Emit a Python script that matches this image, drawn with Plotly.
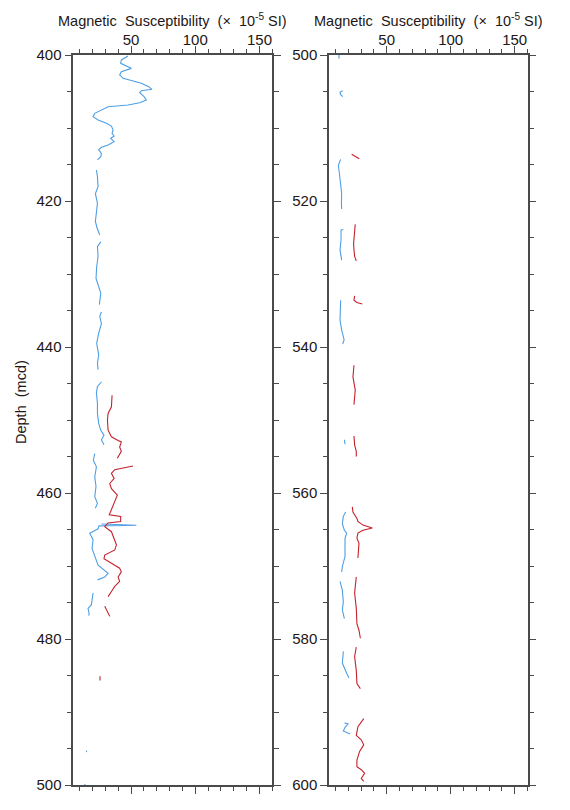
import plotly.graph_objects as go

# ---------- data (depth in mcd, susceptibility in 1e-5 SI); None = gap ----------
left_blue_depth = [
    400.14, 400.68, 401.14, 401.6, 401.83, 402.28, 402.74, 403.2, 403.56, 403.88, 404.34, 404.7,
    404.89, 405.16, 405.7, 406.16, 406.53, 406.85, 407.08, 407.53, 407.99, 408.45, 408.9, 409.36,
    409.73, 410.27, 410.73, 411.1, 411.42, 411.87, 412.33, 412.65, 413.0, 413.47, 413.93, 414.38, None,
    415.75, 416.66, 418.0, 419.0, 420.3, 421.7, 422.8, 423.7, 424.65, None,
    425.6, 426.25, 427.6, 429.0, 430.6, 431.7, 432.6, 434.2, None,
    435.2, 435.8, 436.8, 438.1, 439.5, 441.1, 442.2, 443.1, None,
    444.75, 444.9, 445.4, 446.3, 447.7, 449.1, 450.5, 451.4, 452.1, 452.7, 453.4, None,
    454.6, 455.5, 456.4, 457.8, 459.1, 460.5, 461.4, 462.1, None,
    464.25, 464.42, 464.5, 464.9, 465.5, 466.4, 467.6, 468.7, 469.9, 471.0, 471.5, 471.9, None,
    473.7, 474.7, 475.3, 475.8, 476.5, 476.8, None,
    495.3, 495.5, None,
    499.85, 500.0,
]
left_blue_value = [
    47.6, 42.4, 41.9, 47.6, 50.2, 42.4, 41.1, 43.8, 51.5, 58.0, 63.7, 66.3,
    58.0, 56.7, 60.1, 61.9, 56.7, 47.6, 32.1, 26.9, 21.7, 20.4, 24.3, 30.8,
    34.7, 36.0, 35.2, 36.8, 34.1, 36.8, 32.1, 26.9, 24.8, 26.9, 26.4, 23.8, None,
    23.0, 23.8, 24.3, 22.2, 23.8, 23.2, 22.2, 23.5, 25.6, None,
    26.4, 23.8, 24.3, 23.2, 22.7, 24.8, 26.4, 25.3, None,
    26.9, 25.6, 26.9, 24.8, 23.2, 24.8, 23.8, 24.3, None,
    26.9, 26.4, 23.8, 23.0, 23.8, 23.8, 24.8, 26.4, 28.9, 26.9, 28.9, None,
    21.7, 20.6, 23.0, 21.7, 22.7, 21.7, 23.8, 22.2, None,
    26.9, 54.1, 25.0, 24.3, 17.8, 20.4, 19.6, 21.7, 24.3, 32.1, 29.5, 23.8, None,
    20.4, 19.6, 19.1, 16.5, 17.3, 17.0, None,
    15.2, 15.4, None,
    13.9, 14.1,
]

left_red_depth = [
    446.6, 447.3, 448.2, 449.1, 450.0, 451.4, 452.3, 452.8, 453.0, 453.7, 454.3, 455.25, None,
    456.3, 456.5, 456.8, 457.3, 458.0, 458.7, 459.4, 460.3, 461.2, 462.1, 463.0, 463.2, 463.9,
    464.1, 464.6, 465.3, 466.4, 467.1, 467.8, 468.5, 469.0, 469.6, 470.3, 470.8, 471.5, 472.1,
    472.8, 473.5, 474.2, None,
    475.5, 475.9, 476.3, 476.9, None,
    485.1, 485.7,
]
left_red_value = [
    35.2, 35.2, 34.7, 32.1, 31.6, 32.1, 34.7, 39.9, 42.4, 41.1, 42.4, 39.3, None,
    51.5, 45.0, 37.3, 34.7, 36.8, 33.4, 34.7, 39.3, 37.3, 35.2, 33.0, 41.9, 41.9,
    32.0, 29.5, 34.7, 37.3, 38.6, 37.3, 29.5, 28.9, 34.7, 41.1, 42.4, 39.9, 41.1,
    37.3, 34.7, 32.1, None,
    29.5, 30.8, 31.5, 33.4, None,
    25.8, 25.8,
]

right_blue_depth = [
    500.0, 500.5, None,
    504.9, 505.1, 505.4, 505.7, None,
    514.3, 515.1, 516.2, 517.6, 519.0, 520.3, 521.1, None,
    523.9, 524.0, 525.3, 526.7, 528.1, None,
    533.6, 534.9, 536.3, 537.7, 539.0, 539.6, None,
    552.7, 553.3, None,
    562.6, 563.2, 564.2, 565.1, 565.5, 566.2, 566.9, 568.7, 570.1, 570.8, None,
    572.1, 573.3, 574.9, 576.0, 577.2, None,
    581.7, 583.3, 584.7, 585.3, None,
    591.5, 591.6, 592.1, 592.6, 593.0,
]
right_blue_value = [
    12.7, 12.9, None,
    15.7, 13.6, 14.0, 15.7, None,
    14.1, 12.3, 13.1, 14.1, 14.9, 14.7, 14.9, None,
    16.2, 14.4, 14.4, 13.6, 14.9, None,
    14.1, 14.1, 13.6, 14.9, 16.8, 15.7, None,
    17.0, 17.5, None,
    18.0, 16.2, 15.4, 17.0, 18.8, 17.5, 17.5, 17.5, 15.4, 14.9, None,
    13.6, 15.4, 16.2, 15.4, 17.0, None,
    16.2, 15.4, 18.8, 20.6, None,
    17.0, 20.1, 17.5, 16.2, 21.4,
]

right_red_depth = [
    513.6, 513.9, 514.2, None,
    523.2, 524.4, 525.8, 526.7, 527.6, 528.2, None,
    533.0, 533.6, 533.9, 534.1, None,
    542.5, 544.1, 545.9, 547.9, None,
    552.2, 553.4, 554.3, 555.0, None,
    561.9, 562.6, 563.5, 563.9, 564.4, 564.8, 565.1, 565.5, 566.2, 566.9, 568.9, None,
    571.5, 573.7, 575.8, 577.9, 578.8, 579.9, None,
    581.1, 582.4, 584.3, 586.1, 586.8, None,
    590.9, 592.0, 593.2, 593.8, 594.5, 595.4, 596.6, 597.5, 597.9, 598.4, 599.1, 599.5,
]
right_red_value = [
    22.7, 26.0, 28.7, None,
    25.5, 25.0, 24.2, 24.5, 25.0, 26.3, None,
    25.0, 24.5, 26.8, 31.0, None,
    24.5, 23.7, 25.5, 24.5, None,
    24.5, 25.0, 26.3, 26.3, None,
    23.2, 23.7, 26.8, 27.6, 31.5, 38.8, 31.5, 27.6, 26.8, 28.4, 27.6, None,
    26.3, 25.0, 26.3, 26.8, 28.4, 29.5, None,
    26.3, 25.0, 26.3, 26.8, 29.5, None,
    32.1, 27.6, 26.3, 30.2, 32.1, 28.9, 26.8, 26.8, 30.2, 32.8, 30.2, 32.1,
]

x_tick_vals = [50, 100, 150]
left_depth_ticks = [400, 420, 440, 460, 480, 500]
right_depth_ticks = [500, 520, 540, 560, 580, 600]
x_title = "Magnetic  Susceptibility  (×  10<sup>-5</sup> SI)"
y_title = "Depth  (mcd)"

BLUE = "#4f9fe4"
RED = "#c4222c"
AX = "#4a4a4a"
TXT = "#231616"
FONT = "Liberation Sans, Arial, Helvetica, sans-serif"

fig = go.Figure()
fig.add_trace(go.Scatter(x=left_blue_value, y=left_blue_depth, mode="lines",
                         line=dict(color=BLUE, width=1.1), xaxis="x", yaxis="y", showlegend=False))
fig.add_trace(go.Scatter(x=left_red_value, y=left_red_depth, mode="lines",
                         line=dict(color=RED, width=1.1), xaxis="x", yaxis="y", showlegend=False))
fig.add_trace(go.Scatter(x=right_blue_value, y=right_blue_depth, mode="lines",
                         line=dict(color=BLUE, width=1.1), xaxis="x2", yaxis="y2", showlegend=False))
fig.add_trace(go.Scatter(x=right_red_value, y=right_red_depth, mode="lines",
                         line=dict(color=RED, width=1.1), xaxis="x2", yaxis="y2", showlegend=False))

# the page body adds an 8px margin, so work in page pixels minus 8
OFF = 8
W, H = 570 - OFF, 810 - OFF
top_px, bot_px = 55 - OFF, 785 - OFF
ydom = [(H - bot_px) / H, (H - top_px) / H]
xdom1 = [(73.3 - OFF) / W, (272.3 - OFF) / W]
xdom2 = [(329.0 - OFF) / W, (527.5 - OFF) / W]

def xax(dom, anchor):
    return dict(domain=dom, anchor=anchor, range=[5, 160], side="top", automargin=False,
                tickmode="array", tickvals=x_tick_vals, ticks="outside", ticklen=7,
                tickwidth=1, tickcolor=AX, showline=True, linecolor=AX, linewidth=1.5,
                mirror="ticks", showgrid=False, zeroline=False, ticklabelstandoff=-5,
                tickfont=dict(family=FONT, size=15, color=TXT),
                minor=dict(tick0=0, dtick=10, ticks="outside", ticklen=4, tickwidth=1,
                           tickcolor=AX, showgrid=False))

def yax(dom, anchor, rng, tv):
    return dict(domain=dom, anchor=anchor, range=rng, tickmode="array", tickvals=tv,
                automargin=False,
                ticks="outside", ticklen=7, tickwidth=1, tickcolor=AX, showline=True,
                linecolor=AX, linewidth=1.5, mirror="ticks", showgrid=False, zeroline=False,
                ticklabelstandoff=0,
                tickfont=dict(family=FONT, size=15, color=TXT),
                minor=dict(tick0=0, dtick=5, ticks="outside", ticklen=4.5, tickwidth=1,
                           tickcolor=AX, showgrid=False))

fig.update_layout(
    width=W, height=H, autosize=False,
    margin=dict(l=0, r=0, t=0, b=0),
    paper_bgcolor="white", plot_bgcolor="white",
    xaxis=xax(xdom1, "y"),
    yaxis=yax(ydom, "x", [500, 400], left_depth_ticks),
    xaxis2=xax(xdom2, "y2"),
    yaxis2=yax(ydom, "x2", [600, 500], right_depth_ticks),
    annotations=[
        dict(text=x_title, xref="paper", yref="paper", x=(xdom1[0] + xdom1[1]) / 2,
             y=(H - (20 - OFF)) / H, xanchor="center", yanchor="middle", showarrow=False,
             font=dict(family=FONT, size=14.5, color=TXT)),
        dict(text=x_title, xref="paper", yref="paper", x=(xdom2[0] + xdom2[1]) / 2,
             y=(H - (20 - OFF)) / H, xanchor="center", yanchor="middle", showarrow=False,
             font=dict(family=FONT, size=14.5, color=TXT)),
        dict(text=y_title, xref="paper", yref="paper", x=(21 - OFF) / W, y=(H - (402 - OFF)) / H,
             xanchor="center", yanchor="middle", showarrow=False, textangle=-90,
             font=dict(family=FONT, size=14.5, color=TXT)),
    ],
)

fig.write_html("out.html")
